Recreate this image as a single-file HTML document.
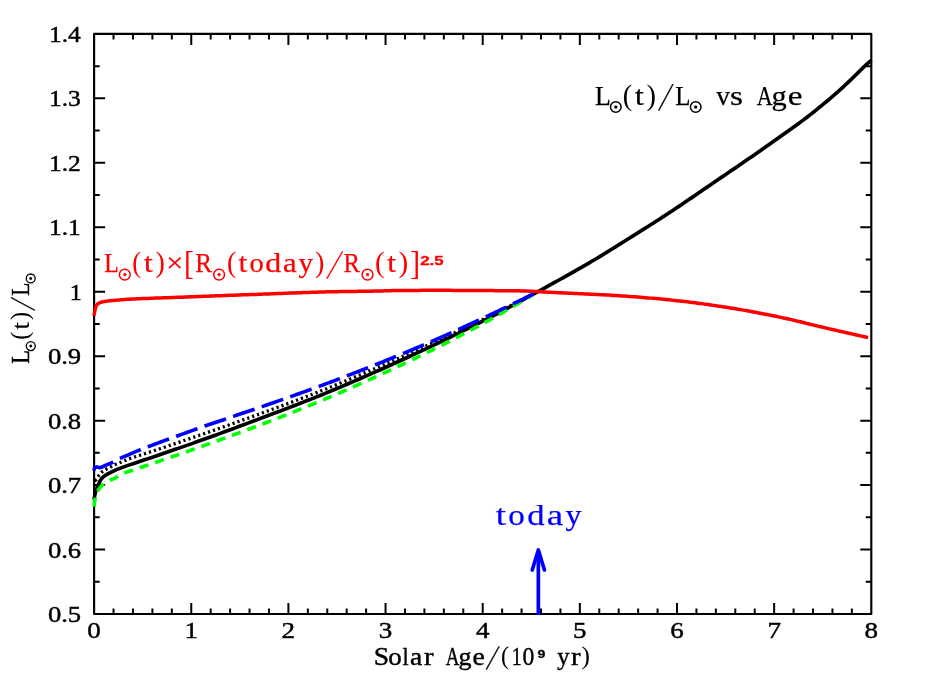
<!DOCTYPE html>
<html><head><meta charset="utf-8"><title>Solar luminosity vs age</title>
<style>
html,body{margin:0;padding:0;background:#fff;}
body{width:926px;height:692px;overflow:hidden;font-family:"Liberation Serif",serif;}
svg{display:block;will-change:transform;}
</style></head><body>
<svg width="926" height="692" viewBox="0 0 926 692">
<rect x="0" y="0" width="926" height="692" fill="#fff"/>
<g stroke="#000" fill="none" stroke-linecap="butt">
<rect x="94.1" y="33.9" width="777.20" height="580.10" stroke-width="2.15" stroke-linejoin="round"/>
<path d="M113.53,614.0 v-5.6 M113.53,33.9 v5.6 M132.96,614.0 v-5.6 M132.96,33.9 v5.6 M152.39,614.0 v-5.6 M152.39,33.9 v5.6 M171.82,614.0 v-5.6 M171.82,33.9 v5.6 M191.25,614.0 v-11 M191.25,33.9 v11 M210.68,614.0 v-5.6 M210.68,33.9 v5.6 M230.11,614.0 v-5.6 M230.11,33.9 v5.6 M249.54,614.0 v-5.6 M249.54,33.9 v5.6 M268.97,614.0 v-5.6 M268.97,33.9 v5.6 M288.40,614.0 v-11 M288.40,33.9 v11 M307.83,614.0 v-5.6 M307.83,33.9 v5.6 M327.26,614.0 v-5.6 M327.26,33.9 v5.6 M346.69,614.0 v-5.6 M346.69,33.9 v5.6 M366.12,614.0 v-5.6 M366.12,33.9 v5.6 M385.55,614.0 v-11 M385.55,33.9 v11 M404.98,614.0 v-5.6 M404.98,33.9 v5.6 M424.41,614.0 v-5.6 M424.41,33.9 v5.6 M443.84,614.0 v-5.6 M443.84,33.9 v5.6 M463.27,614.0 v-5.6 M463.27,33.9 v5.6 M482.70,614.0 v-11 M482.70,33.9 v11 M502.13,614.0 v-5.6 M502.13,33.9 v5.6 M521.56,614.0 v-5.6 M521.56,33.9 v5.6 M540.99,614.0 v-5.6 M540.99,33.9 v5.6 M560.42,614.0 v-5.6 M560.42,33.9 v5.6 M579.85,614.0 v-11 M579.85,33.9 v11 M599.28,614.0 v-5.6 M599.28,33.9 v5.6 M618.71,614.0 v-5.6 M618.71,33.9 v5.6 M638.14,614.0 v-5.6 M638.14,33.9 v5.6 M657.57,614.0 v-5.6 M657.57,33.9 v5.6 M677.00,614.0 v-11 M677.00,33.9 v11 M696.43,614.0 v-5.6 M696.43,33.9 v5.6 M715.86,614.0 v-5.6 M715.86,33.9 v5.6 M735.29,614.0 v-5.6 M735.29,33.9 v5.6 M754.72,614.0 v-5.6 M754.72,33.9 v5.6 M774.15,614.0 v-11 M774.15,33.9 v11 M793.58,614.0 v-5.6 M793.58,33.9 v5.6 M813.01,614.0 v-5.6 M813.01,33.9 v5.6 M832.44,614.0 v-5.6 M832.44,33.9 v5.6 M851.87,614.0 v-5.6 M851.87,33.9 v5.6 M94.1,581.77 h5.6 M871.3,581.77 h-5.6 M94.1,549.54 h11 M871.3,549.54 h-11 M94.1,517.32 h5.6 M871.3,517.32 h-5.6 M94.1,485.09 h11 M871.3,485.09 h-11 M94.1,452.86 h5.6 M871.3,452.86 h-5.6 M94.1,420.63 h11 M871.3,420.63 h-11 M94.1,388.41 h5.6 M871.3,388.41 h-5.6 M94.1,356.18 h11 M871.3,356.18 h-11 M94.1,323.95 h5.6 M871.3,323.95 h-5.6 M94.1,291.72 h11 M871.3,291.72 h-11 M94.1,259.49 h5.6 M871.3,259.49 h-5.6 M94.1,227.27 h11 M871.3,227.27 h-11 M94.1,195.04 h5.6 M871.3,195.04 h-5.6 M94.1,162.81 h11 M871.3,162.81 h-11 M94.1,130.58 h5.6 M871.3,130.58 h-5.6 M94.1,98.36 h11 M871.3,98.36 h-11 M94.1,66.13 h5.6 M871.3,66.13 h-5.6" stroke-width="2.0"/>
</g>
<g fill="none" stroke-linejoin="round">
<path d="M94.10,499.50 L94.18,498.82 L94.27,498.15 L94.37,497.48 L94.47,496.81 L94.53,496.50 L94.59,496.14 L94.71,495.48 L94.84,494.81 L94.97,494.15 L95.11,493.53 L95.13,493.49 L95.29,492.82 L95.46,492.17 L95.65,491.52 L95.84,490.87 L95.92,490.62 L96.05,490.23 L96.28,489.60 L96.52,488.96 L96.78,488.33 L97.01,487.80 L97.05,487.71 L97.32,487.09 L97.60,486.46 L97.88,485.84 L98.16,485.23 L98.25,485.03 L98.44,484.61 L98.71,483.98 L98.99,483.35 L99.26,482.71 L99.48,482.21 L99.54,482.08 L99.83,481.45 L100.13,480.85 L100.45,480.26 L100.80,479.70 L100.89,479.57 L101.17,479.17 L101.58,478.66 L102.03,478.15 L102.52,477.67 L102.88,477.33 L103.03,477.19 L103.55,476.74 L104.09,476.30 L104.64,475.88 L105.18,475.49 L105.28,475.42 L105.73,475.11 L106.29,474.75 L106.87,474.40 L107.46,474.07 L107.84,473.86 L108.06,473.75 L108.66,473.44 L109.28,473.13 L109.89,472.83 L110.51,472.53 L110.57,472.50 L111.12,472.23 L111.73,471.93 L112.34,471.63 L112.95,471.33 L113.29,471.16 L113.56,471.04 L114.17,470.74 L114.78,470.45 L115.40,470.17 L116.02,469.88 L116.04,469.88 L116.64,469.61 L118.82,468.69 L121.64,467.62 L124.50,466.61 L127.36,465.62 L130.23,464.64 L133.10,463.68 L135.97,462.74 L138.85,461.79 L141.72,460.82 L144.58,459.85 L147.45,458.88 L150.32,457.91 L153.18,456.94 L156.05,455.96 L158.91,454.99 L161.78,454.01 L164.64,453.03 L167.50,452.05 L170.37,451.06 L173.23,450.08 L176.09,449.09 L178.95,448.10 L181.81,447.10 L184.66,446.11 L187.52,445.11 L190.38,444.11 L193.23,443.10 L196.08,442.09 L198.93,441.08 L201.78,440.06 L204.63,439.04 L207.48,438.02 L210.33,436.99 L213.17,435.96 L216.02,434.93 L218.86,433.89 L221.70,432.85 L224.55,431.81 L227.39,430.77 L230.23,429.72 L233.06,428.67 L235.90,427.62 L238.74,426.56 L241.58,425.51 L244.41,424.45 L247.25,423.39 L250.08,422.33 L252.92,421.26 L255.75,420.20 L258.58,419.13 L261.41,418.07 L264.25,417.00 L267.08,415.94 L269.91,414.87 L272.74,413.80 L275.58,412.74 L278.41,411.67 L281.24,410.60 L284.07,409.52 L286.90,408.45 L289.73,407.37 L292.56,406.29 L295.38,405.20 L298.21,404.11 L301.03,403.02 L303.85,401.92 L306.67,400.82 L309.48,399.71 L312.29,398.59 L315.10,397.47 L317.91,396.34 L320.72,395.21 L323.52,394.07 L326.32,392.92 L329.11,391.77 L331.91,390.61 L334.70,389.45 L337.50,388.28 L340.29,387.10 L343.07,385.92 L345.86,384.74 L348.64,383.55 L351.42,382.36 L354.21,381.16 L356.98,379.96 L359.76,378.75 L362.54,377.54 L365.31,376.33 L368.08,375.12 L370.85,373.90 L373.62,372.68 L376.39,371.45 L379.15,370.23 L381.92,369.00 L384.68,367.76 L387.44,366.52 L390.20,365.28 L392.96,364.03 L395.72,362.78 L398.47,361.53 L401.22,360.27 L403.97,359.01 L406.72,357.74 L409.47,356.47 L412.22,355.20 L414.96,353.92 L417.71,352.64 L420.45,351.36 L423.19,350.07 L425.93,348.79 L428.66,347.49 L431.40,346.20 L434.13,344.90 L436.86,343.60 L439.59,342.29 L442.32,340.99 L445.05,339.68 L447.78,338.36 L450.50,337.04 L453.22,335.72 L455.94,334.39 L458.66,333.06 L461.38,331.73 L464.09,330.39 L466.81,329.05 L469.52,327.71 L472.23,326.36 L474.94,325.01 L477.64,323.65 L480.35,322.29 L483.05,320.93 L485.75,319.56 L488.45,318.19 L491.14,316.82 L493.83,315.43 L496.52,314.03 L499.20,312.62 L501.87,311.21 L504.54,309.79 L507.21,308.36 L509.88,306.93 L512.54,305.49 L515.21,304.05 L517.87,302.61 L520.52,301.16 L523.18,299.71 L525.84,298.26 L528.49,296.81 L531.15,295.36 L533.80,293.91 L536.46,292.45 L539.11,291.00 L541.77,289.55 L544.42,288.09 L547.07,286.63 L549.72,285.16 L552.36,283.68 L555.00,282.21 L557.65,280.74 L560.29,279.27 L562.94,277.79 L565.58,276.31 L568.22,274.84 L570.86,273.35 L573.50,271.87 L576.13,270.38 L578.76,268.88 L581.39,267.38 L584.01,265.87 L586.63,264.36 L589.25,262.83 L591.86,261.30 L594.46,259.76 L597.06,258.21 L599.65,256.65 L602.24,255.08 L604.82,253.50 L607.39,251.91 L609.97,250.32 L612.54,248.72 L615.10,247.11 L617.67,245.51 L620.23,243.90 L622.80,242.29 L625.36,240.67 L627.92,239.06 L630.48,237.46 L633.05,235.85 L635.61,234.24 L638.18,232.63 L640.74,231.03 L643.31,229.42 L645.87,227.80 L648.43,226.19 L650.98,224.57 L653.54,222.94 L656.09,221.31 L658.63,219.68 L661.18,218.04 L663.72,216.39 L666.25,214.74 L668.78,213.08 L671.30,211.41 L673.82,209.74 L676.34,208.06 L678.85,206.37 L681.36,204.68 L683.87,202.99 L686.38,201.29 L688.88,199.59 L691.38,197.88 L693.88,196.18 L696.38,194.47 L698.88,192.76 L701.37,191.05 L703.87,189.33 L706.37,187.62 L708.86,185.91 L711.36,184.20 L713.86,182.49 L716.36,180.78 L718.86,179.08 L721.36,177.37 L723.86,175.67 L726.37,173.97 L728.87,172.27 L731.37,170.57 L733.88,168.87 L736.38,167.17 L738.88,165.46 L741.38,163.76 L743.88,162.05 L746.37,160.34 L748.87,158.62 L751.36,156.91 L753.85,155.19 L756.34,153.46 L758.82,151.73 L761.30,150.00 L763.78,148.27 L766.26,146.53 L768.74,144.79 L771.21,143.05 L773.68,141.30 L776.15,139.55 L778.62,137.79 L781.08,136.03 L783.54,134.27 L786.01,132.51 L788.47,130.76 L790.94,129.00 L793.40,127.23 L795.86,125.46 L798.31,123.69 L800.75,121.90 L803.18,120.10 L805.60,118.28 L808.00,116.45 L810.39,114.59 L812.77,112.73 L815.14,110.84 L817.50,108.95 L819.85,107.04 L822.19,105.12 L824.52,103.18 L826.84,101.24 L829.15,99.28 L831.45,97.31 L833.74,95.33 L836.02,93.34 L838.29,91.34 L840.55,89.33 L842.79,87.29 L845.01,85.24 L847.21,83.16 L849.41,81.07 L851.59,78.98 L853.77,76.88 L855.95,74.78 L858.10,72.64 L860.23,70.49 L862.37,68.35 L864.55,66.25 L866.77,64.21 L869.07,62.23 L871.40,60.30" stroke="#000" stroke-width="3.65"/>
<path d="M94.10,480.60 L94.80,480.43 L95.42,480.19 L95.62,480.09 L95.92,479.88 L96.36,479.44 L96.65,479.06 L96.75,478.91 L97.12,478.31 L97.46,477.67 L97.50,477.61 L97.81,477.03 L98.18,476.41 L98.35,476.14 L98.57,475.83 L98.99,475.30 L99.34,474.86 L99.42,474.77 L99.85,474.24 L100.30,473.72 L100.38,473.62 L100.75,473.21 L101.22,472.72 L101.49,472.46 L101.70,472.25 L102.20,471.81 L102.68,471.44 L102.73,471.40 L103.27,471.01 L103.84,470.63 L104.00,470.53 L104.42,470.27 L105.01,469.91 L105.39,469.69 L105.60,469.57 L106.19,469.22 L106.77,468.89 L106.78,468.88 L107.37,468.56 L107.96,468.24 L108.19,468.13 L108.57,467.93 L109.17,467.62 L109.62,467.40 L109.78,467.32 L110.39,467.01 L110.99,466.71 L111.05,466.67 L111.59,466.39 L112.19,466.07 L112.47,465.93 L112.79,465.75 L113.39,465.44 L113.89,465.18 L113.99,465.12 L114.60,464.82 L115.21,464.53 L115.33,464.47 L115.82,464.25 L116.44,463.98 L116.79,463.84 L117.07,463.72 L117.70,463.48 L118.29,463.25 L118.34,463.24 L118.97,463.00 L119.61,462.75 L119.79,462.68 L120.24,462.51 L120.87,462.25 L121.27,462.08 L121.49,461.99 L122.12,461.73 L122.74,461.47 L122.75,461.46 L123.37,461.20 L123.99,460.94 L124.23,460.84 L124.62,460.68 L125.25,460.42 L125.71,460.23 L125.87,460.16 L126.50,459.90 L127.13,459.64 L127.19,459.62 L128.68,459.02 L130.18,458.45 L131.69,457.93 L133.21,457.43 L134.74,456.94 L136.27,456.47 L137.81,456.00 L139.34,455.51 L140.86,455.02 L142.39,454.52 L143.91,454.02 L145.43,453.52 L146.95,453.01 L148.47,452.51 L150.00,452.00 L151.52,451.50 L153.04,451.00 L154.56,450.49 L156.08,449.99 L157.60,449.48 L159.12,448.97 L160.64,448.47 L162.16,447.96 L163.68,447.45 L165.20,446.94 L166.72,446.43 L168.24,445.92 L169.76,445.41 L171.28,444.90 L172.80,444.39 L174.32,443.88 L175.84,443.36 L177.36,442.85 L178.87,442.33 L180.39,441.82 L181.91,441.30 L183.43,440.79 L184.94,440.27 L186.46,439.75 L187.98,439.24 L189.49,438.72 L191.01,438.20 L192.53,437.68 L194.04,437.15 L195.56,436.63 L197.07,436.11 L198.59,435.59 L200.10,435.06 L201.62,434.54 L203.13,434.01 L204.65,433.49 L206.16,432.96 L207.68,432.44 L209.19,431.91 L210.70,431.38 L212.22,430.85 L213.73,430.32 L215.24,429.79 L216.75,429.26 L218.27,428.73 L219.78,428.20 L221.29,427.67 L222.80,427.14 L224.32,426.60 L225.83,426.07 L227.34,425.54 L228.85,425.00 L230.36,424.47 L231.87,423.93 L233.38,423.39 L234.89,422.85 L236.40,422.32 L237.91,421.78 L239.42,421.24 L240.93,420.70 L242.44,420.16 L243.95,419.61 L245.45,419.07 L246.96,418.53 L248.47,417.98 L249.98,417.44 L251.48,416.90 L252.99,416.35 L254.50,415.80 L256.00,415.25 L257.51,414.71 L259.02,414.16 L260.52,413.61 L262.03,413.06 L263.53,412.51 L265.04,411.96 L266.55,411.41 L268.05,410.86 L269.56,410.31 L271.06,409.76 L272.57,409.21 L274.07,408.65 L275.58,408.10 L277.08,407.55 L278.59,407.00 L280.09,406.44 L281.59,405.89 L283.10,405.33 L284.60,404.78 L286.10,404.22 L287.61,403.66 L289.11,403.10 L290.61,402.54 L292.11,401.98 L293.61,401.42 L295.11,400.86 L296.61,400.29 L298.11,399.73 L299.61,399.16 L301.11,398.59 L302.61,398.03 L304.11,397.46 L305.61,396.88 L307.10,396.31 L308.60,395.74 L310.10,395.16 L311.59,394.58 L313.09,394.00 L314.58,393.42 L316.07,392.84 L317.57,392.26 L319.06,391.67 L320.55,391.08 L322.04,390.49 L323.53,389.90 L325.02,389.31 L326.51,388.71 L328.00,388.12 L329.48,387.52 L330.97,386.92 L332.46,386.32 L333.94,385.72 L335.43,385.11 L336.91,384.51 L338.39,383.90 L339.88,383.29 L341.36,382.68 L342.84,382.07 L344.32,381.46 L345.80,380.84 L347.28,380.23 L348.76,379.61 L350.24,379.00 L351.72,378.38 L353.20,377.76 L354.68,377.14 L356.15,376.52 L357.63,375.89 L359.11,375.27 L360.58,374.65 L362.06,374.02 L363.54,373.39 L365.01,372.77 L366.49,372.14 L367.96,371.51 L369.43,370.88 L370.91,370.25 L372.38,369.62 L373.86,368.99 L375.33,368.36 L376.80,367.73 L378.27,367.09 L379.75,366.46 L381.22,365.82 L382.69,365.19 L384.16,364.55 L385.63,363.92 L387.10,363.28 L388.57,362.64 L390.04,362.00 L391.51,361.36 L392.98,360.71 L394.45,360.07 L395.92,359.43 L397.38,358.78 L398.85,358.14 L400.32,357.49 L401.78,356.84 L403.25,356.19 L404.71,355.54 L406.18,354.89 L407.64,354.24 L409.11,353.59 L410.57,352.93 L412.03,352.28 L413.50,351.63 L414.96,350.97 L416.42,350.31 L417.88,349.66 L419.35,349.00 L420.81,348.34 L422.27,347.68 L423.73,347.02 L425.19,346.36 L426.65,345.70 L428.11,345.03 L429.57,344.37 L431.03,343.71 L432.48,343.04 L433.94,342.37 L435.40,341.71 L436.86,341.04 L438.31,340.37 L439.77,339.71 L441.23,339.04 L442.68,338.37 L444.14,337.69 L445.59,337.02 L447.05,336.35 L448.50,335.68 L449.96,335.00 L451.41,334.33 L452.86,333.65 L454.32,332.97 L455.77,332.29 L457.22,331.61 L458.67,330.93 L460.12,330.25 L461.57,329.57 L463.02,328.89 L464.47,328.20 L465.92,327.52 L467.37,326.83 L468.82,326.15 L470.27,325.46 L471.72,324.77 L473.16,324.08 L474.61,323.39 L476.06,322.70 L477.50,322.01 L478.95,321.32 L480.40,320.63 L481.84,319.94 L483.29,319.24 L484.73,318.55 L486.18,317.85 L487.62,317.16 L489.06,316.46 L490.50,315.75 L491.94,315.05 L493.38,314.34 L494.82,313.64 L496.26,312.93 L497.69,312.21 L499.13,311.50 L500.56,310.79 L502.00,310.07 L503.43,309.35 L504.86,308.62 L506.29,307.90 L507.72,307.18 L509.15,306.45 L510.58,305.73 L512.01,305.00 L513.43,304.27 L514.86,303.54 L516.29,302.81 L517.71,302.08 L519.14,301.35 L520.57,300.62 L521.99,299.89 L523.42,299.16 L524.85,298.42 L526.27,297.69 L527.70,296.96 L529.12,296.23 L530.55,295.49 L531.97,294.76 L533.40,294.03" stroke="#000" stroke-width="3.3" stroke-dasharray="2.2 3.0" stroke-dashoffset="-0.65"/>
<path d="M94.00,507.30 L94.05,506.62 L94.11,505.95 L94.14,505.64 L94.18,505.27 L94.25,504.60 L94.33,503.99 L94.34,503.92 L94.42,503.25 L94.52,502.58 L94.55,502.34 L94.61,501.91 L94.72,501.24 L94.81,500.70 L94.83,500.57 L94.96,499.90 L95.09,499.23 L95.13,499.07 L95.24,498.57 L95.39,497.91 L95.51,497.45 L95.56,497.26 L95.74,496.61 L95.93,495.96 L95.96,495.86 L96.14,495.30 L96.36,494.65 L96.50,494.26 L96.60,494.00 L96.85,493.36 L97.11,492.73 L97.12,492.69 L97.39,492.10 L97.67,491.49 L97.82,491.18 L97.97,490.89 L98.28,490.31 L98.60,489.76 L98.61,489.74 L98.96,489.18 L99.34,488.61 L99.50,488.39 L99.74,488.06 L100.17,487.51 L100.55,487.05 L100.61,486.97 L101.07,486.45 L101.54,485.94 L101.69,485.78 L102.03,485.44 L102.52,484.96 L102.90,484.62 L103.02,484.51 L103.52,484.08 L104.03,483.67 L104.14,483.58 L104.56,483.28 L105.11,482.90 L105.48,482.65 L105.68,482.53 L106.26,482.18 L106.86,481.84 L106.92,481.80 L107.46,481.51 L108.07,481.19 L108.42,481.01 L108.69,480.88 L109.31,480.57 L109.92,480.28 L109.93,480.27 L110.53,479.98 L111.15,479.71 L111.45,479.59 L111.79,479.46 L112.42,479.22 L113.01,479.00 L113.06,478.98 L113.69,478.73 L114.30,478.45 L114.52,478.34 L114.89,478.13 L115.47,477.78 L115.93,477.47 L116.04,477.40 L117.29,476.48 L118.66,475.51 L120.08,474.69 L121.57,474.02 L123.11,473.42 L124.68,472.86 L126.27,472.33 L127.86,471.81 L129.45,471.28 L131.01,470.73 L132.59,470.19 L134.16,469.66 L135.74,469.13 L137.31,468.60 L138.89,468.08 L140.46,467.54 L142.04,467.01 L143.61,466.48 L145.18,465.95 L146.76,465.41 L148.33,464.88 L149.90,464.35 L151.48,463.81 L153.05,463.28 L154.62,462.75 L156.20,462.21 L157.77,461.67 L159.34,461.14 L160.91,460.60 L162.49,460.06 L164.06,459.53 L165.63,458.99 L167.20,458.45 L168.77,457.91 L170.35,457.37 L171.92,456.83 L173.49,456.29 L175.06,455.74 L176.63,455.20 L178.20,454.66 L179.77,454.11 L181.34,453.57 L182.91,453.02 L184.47,452.47 L186.04,451.93 L187.61,451.38 L189.18,450.83 L190.75,450.28 L192.31,449.72 L193.88,449.17 L195.45,448.62 L197.01,448.06 L198.58,447.51 L200.14,446.95 L201.71,446.39 L203.27,445.83 L204.84,445.27 L206.40,444.71 L207.97,444.15 L209.53,443.59 L211.09,443.03 L212.66,442.46 L214.22,441.90 L215.78,441.33 L217.34,440.77 L218.91,440.20 L220.47,439.63 L222.03,439.06 L223.59,438.50 L225.15,437.93 L226.71,437.36 L228.27,436.78 L229.83,436.21 L231.39,435.64 L232.95,435.07 L234.51,434.49 L236.07,433.92 L237.63,433.34 L239.19,432.77 L240.74,432.19 L242.30,431.61 L243.86,431.04 L245.42,430.46 L246.97,429.88 L248.53,429.30 L250.09,428.72 L251.64,428.13 L253.20,427.55 L254.76,426.97 L256.31,426.39 L257.87,425.80 L259.42,425.22 L260.98,424.63 L262.53,424.04 L264.09,423.45 L265.64,422.87 L267.19,422.27 L268.74,421.68 L270.30,421.09 L271.85,420.49 L273.40,419.90 L274.95,419.30 L276.50,418.70 L278.05,418.10 L279.59,417.49 L281.14,416.89 L282.69,416.28 L284.24,415.68 L285.78,415.07 L287.33,414.46 L288.87,413.85 L290.42,413.24 L291.96,412.62 L293.51,412.01 L295.05,411.39 L296.59,410.77 L298.13,410.15 L299.67,409.53 L301.21,408.91 L302.75,408.29 L304.29,407.66 L305.83,407.04 L307.37,406.41 L308.91,405.78 L310.45,405.15 L311.98,404.52 L313.52,403.89 L315.06,403.25 L316.59,402.62 L318.13,401.98 L319.66,401.34 L321.19,400.70 L322.73,400.06 L324.26,399.42 L325.79,398.77 L327.32,398.13 L328.85,397.48 L330.38,396.83 L331.91,396.18 L333.44,395.53 L334.96,394.87 L336.49,394.22 L338.02,393.56 L339.54,392.90 L341.07,392.24 L342.59,391.58 L344.11,390.91 L345.64,390.25 L347.16,389.58 L348.68,388.92 L350.20,388.25 L351.72,387.58 L353.24,386.91 L354.76,386.23 L356.28,385.56 L357.80,384.88 L359.31,384.21 L360.83,383.53 L362.35,382.85 L363.86,382.17 L365.38,381.49 L366.89,380.81 L368.41,380.13 L369.92,379.44 L371.44,378.75 L372.95,378.07 L374.46,377.38 L375.97,376.69 L377.49,376.00 L379.00,375.31 L380.51,374.62 L382.02,373.92 L383.53,373.23 L385.03,372.53 L386.54,371.84 L388.05,371.14 L389.56,370.44 L391.06,369.73 L392.57,369.03 L394.07,368.33 L395.58,367.62 L397.08,366.91 L398.58,366.21 L400.09,365.50 L401.59,364.79 L403.09,364.07 L404.59,363.36 L406.09,362.64 L407.59,361.93 L409.09,361.21 L410.58,360.49 L412.08,359.77 L413.58,359.05 L415.07,358.33 L416.57,357.60 L418.06,356.88 L419.56,356.15 L421.05,355.42 L422.55,354.69 L424.04,353.96 L425.53,353.23 L427.02,352.50 L428.51,351.76 L430.00,351.03 L431.49,350.29 L432.98,349.55 L434.47,348.81 L435.95,348.07 L437.44,347.33 L438.93,346.59 L440.41,345.84 L441.90,345.10 L443.38,344.35 L444.86,343.60 L446.34,342.85 L447.82,342.09 L449.30,341.34 L450.78,340.58 L452.26,339.82 L453.74,339.06 L455.21,338.29 L456.69,337.53 L458.16,336.76 L459.63,335.99 L461.11,335.22 L462.58,334.45 L464.05,333.68 L465.52,332.90 L466.99,332.12 L468.45,331.34 L469.92,330.56 L471.39,329.78 L472.85,329.00 L474.32,328.21 L475.78,327.43 L477.24,326.64 L478.70,325.85 L480.17,325.06 L481.63,324.27 L483.09,323.48 L484.55,322.69 L486.01,321.89 L487.47,321.10 L488.92,320.30 L490.38,319.49 L491.83,318.69 L493.28,317.88 L494.73,317.06 L496.18,316.25 L497.62,315.43 L499.07,314.61 L500.51,313.79 L501.95,312.96 L503.39,312.13 L504.83,311.30 L506.27,310.46 L507.70,309.63 L509.14,308.79 L510.57,307.95 L512.00,307.11 L513.43,306.26 L514.87,305.42 L516.29,304.57 L517.72,303.72 L519.15,302.87 L520.58,302.02 L522.01,301.17 L523.43,300.32 L524.86,299.47 L526.28,298.61 L527.71,297.75 L529.13,296.90 L530.55,296.04 L531.98,295.19 L533.40,294.33" stroke="#00ff00" stroke-width="3.6" stroke-dasharray="9.3 7.0" stroke-dashoffset="-0.5"/>
<path d="M94.00,470.40 L94.12,469.47 L94.36,468.64 L94.46,468.39 L94.68,467.97 L95.06,467.49 L95.35,467.28 L95.48,467.23 L95.99,467.16 L96.71,467.12 L96.73,467.12 L97.44,467.10 L98.11,467.19 L98.36,467.27 L98.78,467.41 L99.43,467.58 L99.90,467.59 L100.08,467.58 L100.72,467.47 L101.36,467.28 L101.40,467.27 L101.99,467.03 L102.62,466.74 L102.88,466.60 L103.24,466.41 L103.87,466.08 L104.34,465.84 L104.49,465.76 L105.12,465.47 L105.75,465.22 L105.81,465.19 L106.38,464.97 L107.01,464.71 L107.29,464.60 L107.64,464.46 L108.27,464.21 L108.77,464.00 L108.90,463.95 L109.52,463.69 L110.15,463.43 L110.24,463.39 L110.77,463.16 L111.39,462.89 L111.69,462.76 L112.01,462.62 L112.63,462.33 L113.13,462.09 L113.24,462.04 L113.84,461.74 L114.44,461.43 L114.55,461.37 L115.04,461.11 L115.64,460.78 L115.95,460.61 L116.23,460.45 L116.83,460.12 L117.34,459.84 L117.42,459.80 L118.02,459.47 L118.61,459.15 L118.74,459.08 L119.22,458.84 L119.82,458.53 L120.16,458.37 L120.43,458.24 L121.04,457.95 L121.60,457.70 L121.66,457.68 L122.28,457.40 L122.90,457.13 L123.05,457.07 L123.53,456.87 L124.15,456.61 L124.52,456.45 L124.78,456.35 L125.41,456.09 L125.99,455.84 L126.03,455.83 L126.66,455.57 L127.29,455.30 L127.46,455.23 L127.91,455.04 L128.53,454.77 L128.92,454.60 L129.16,454.50 L130.38,453.97 L131.84,453.33 L133.29,452.70 L134.75,452.07 L136.21,451.44 L137.68,450.83 L139.15,450.23 L140.63,449.64 L142.11,449.06 L143.59,448.48 L145.07,447.91 L146.56,447.34 L148.04,446.77 L149.53,446.20 L151.01,445.64 L152.50,445.07 L153.98,444.51 L155.47,443.95 L156.96,443.39 L158.45,442.83 L159.94,442.28 L161.43,441.73 L162.92,441.18 L164.41,440.63 L165.91,440.08 L167.40,439.53 L168.89,438.99 L170.39,438.44 L171.88,437.90 L173.38,437.36 L174.87,436.82 L176.37,436.28 L177.86,435.74 L179.36,435.20 L180.85,434.65 L182.34,434.11 L183.84,433.57 L185.33,433.03 L186.83,432.49 L188.32,431.95 L189.82,431.41 L191.31,430.86 L192.81,430.32 L194.30,429.79 L195.80,429.25 L197.30,428.71 L198.80,428.18 L200.29,427.65 L201.79,427.12 L203.29,426.59 L204.79,426.07 L206.29,425.55 L207.80,425.03 L209.30,424.51 L210.81,424.00 L212.31,423.49 L213.82,422.98 L215.32,422.47 L216.83,421.96 L218.34,421.45 L219.84,420.94 L221.35,420.43 L222.85,419.93 L224.36,419.42 L225.87,418.91 L227.37,418.40 L228.88,417.89 L230.38,417.37 L231.89,416.86 L233.39,416.35 L234.90,415.83 L236.40,415.32 L237.91,414.81 L239.41,414.30 L240.92,413.79 L242.42,413.28 L243.93,412.77 L245.43,412.26 L246.94,411.75 L248.45,411.24 L249.95,410.73 L251.46,410.22 L252.96,409.71 L254.47,409.19 L255.97,408.68 L257.48,408.17 L258.98,407.65 L260.48,407.13 L261.99,406.62 L263.49,406.10 L264.99,405.58 L266.49,405.06 L268.00,404.54 L269.50,404.02 L271.00,403.50 L272.50,402.98 L274.01,402.46 L275.51,401.94 L277.01,401.42 L278.51,400.89 L280.01,400.37 L281.51,399.84 L283.01,399.32 L284.51,398.79 L286.01,398.27 L287.51,397.74 L289.01,397.21 L290.51,396.68 L292.01,396.16 L293.51,395.62 L295.01,395.09 L296.51,394.56 L298.00,394.03 L299.50,393.49 L301.00,392.96 L302.49,392.42 L303.99,391.88 L305.49,391.35 L306.98,390.81 L308.48,390.27 L309.97,389.72 L311.47,389.18 L312.96,388.64 L314.45,388.09 L315.95,387.54 L317.44,387.00 L318.93,386.45 L320.42,385.89 L321.91,385.34 L323.40,384.79 L324.89,384.24 L326.38,383.68 L327.87,383.12 L329.36,382.57 L330.85,382.01 L332.34,381.45 L333.82,380.89 L335.31,380.33 L336.80,379.76 L338.28,379.20 L339.77,378.63 L341.26,378.07 L342.74,377.50 L344.23,376.93 L345.71,376.36 L347.19,375.79 L348.68,375.22 L350.16,374.65 L351.64,374.08 L353.13,373.50 L354.61,372.93 L356.09,372.35 L357.57,371.78 L359.05,371.20 L360.53,370.62 L362.01,370.04 L363.49,369.46 L364.97,368.88 L366.45,368.29 L367.93,367.71 L369.41,367.12 L370.89,366.54 L372.36,365.95 L373.84,365.36 L375.32,364.77 L376.79,364.18 L378.27,363.59 L379.75,363.00 L381.22,362.41 L382.70,361.82 L384.17,361.22 L385.64,360.63 L387.12,360.03 L388.59,359.43 L390.06,358.84 L391.54,358.24 L393.01,357.64 L394.48,357.04 L395.95,356.44 L397.42,355.83 L398.89,355.23 L400.36,354.62 L401.83,354.02 L403.30,353.41 L404.77,352.80 L406.24,352.19 L407.71,351.58 L409.18,350.97 L410.64,350.36 L412.11,349.75 L413.58,349.13 L415.04,348.52 L416.51,347.90 L417.97,347.28 L419.44,346.66 L420.90,346.04 L422.36,345.42 L423.82,344.80 L425.29,344.17 L426.75,343.55 L428.21,342.92 L429.67,342.29 L431.13,341.66 L432.59,341.03 L434.05,340.40 L435.51,339.76 L436.96,339.13 L438.42,338.49 L439.88,337.85 L441.33,337.21 L442.78,336.57 L444.24,335.93 L445.69,335.28 L447.14,334.64 L448.60,333.99 L450.05,333.34 L451.50,332.68 L452.94,332.03 L454.39,331.37 L455.84,330.72 L457.29,330.06 L458.73,329.40 L460.18,328.74 L461.62,328.08 L463.07,327.41 L464.51,326.75 L465.96,326.08 L467.40,325.42 L468.84,324.75 L470.29,324.08 L471.73,323.41 L473.17,322.74 L474.61,322.07 L476.05,321.40 L477.49,320.73 L478.94,320.06 L480.38,319.39 L481.82,318.72 L483.26,318.05 L484.70,317.38 L486.14,316.70 L487.58,316.03 L489.02,315.35 L490.46,314.68 L491.90,314.00 L493.34,313.33 L494.77,312.65 L496.21,311.97 L497.65,311.28 L499.08,310.60 L500.51,309.91 L501.95,309.22 L503.38,308.53 L504.81,307.84 L506.24,307.15 L507.67,306.46 L509.10,305.76 L510.53,305.07 L511.96,304.37 L513.39,303.68 L514.82,302.98 L516.25,302.29 L517.68,301.59 L519.11,300.89 L520.54,300.20 L521.97,299.50 L523.40,298.80 L524.83,298.11 L526.25,297.41 L527.68,296.71 L529.11,296.02 L530.54,295.32 L531.97,294.62 L533.40,293.93" stroke="#0000ff" stroke-width="3.6" stroke-dasharray="22.7 7.5" stroke-dashoffset="0"/>
<path d="M94.07,315.60 L94.15,314.92 L94.24,314.25 L94.34,313.58 L94.44,312.98 L94.45,312.91 L94.58,312.24 L94.70,311.57 L94.84,310.91 L94.95,310.40 L94.98,310.25 L95.13,309.59 L95.28,308.92 L95.43,308.23 L95.54,307.77 L95.60,307.53 L95.79,306.85 L96.00,306.20 L96.24,305.61 L96.39,305.31 L96.52,305.08 L96.93,304.60 L97.44,304.14 L98.03,303.72 L98.29,303.55 L98.65,303.34 L99.26,303.02 L99.85,302.75 L100.48,302.49 L100.68,302.42 L101.13,302.26 L101.78,302.05 L102.45,301.87 L103.11,301.72 L103.24,301.69 L103.77,301.59 L104.43,301.47 L105.10,301.36 L105.77,301.27 L105.83,301.26 L106.44,301.17 L107.12,301.09 L107.80,301.01 L108.45,300.94 L108.47,300.93 L109.15,300.86 L109.82,300.79 L110.50,300.72 L111.07,300.66 L111.17,300.65 L111.85,300.59 L112.52,300.52 L113.20,300.46 L113.70,300.42 L113.87,300.41 L114.55,300.35 L115.22,300.30 L115.90,300.24 L116.32,300.21 L116.58,300.19 L117.25,300.13 L117.93,300.08 L118.60,300.02 L118.95,300.00 L119.28,299.97 L119.96,299.91 L120.63,299.85 L121.31,299.80 L121.57,299.77 L121.98,299.74 L122.66,299.68 L123.33,299.63 L124.01,299.57 L124.20,299.56 L124.69,299.52 L126.83,299.37 L129.45,299.22 L132.08,299.08 L134.71,298.95 L137.34,298.82 L139.97,298.71 L142.61,298.59 L145.24,298.49 L147.87,298.38 L150.50,298.29 L153.14,298.19 L155.77,298.10 L158.40,298.01 L161.03,297.92 L163.67,297.83 L166.30,297.74 L168.93,297.65 L171.57,297.56 L174.20,297.47 L176.83,297.37 L179.47,297.27 L182.10,297.17 L184.73,297.07 L187.36,296.97 L189.99,296.86 L192.63,296.76 L195.26,296.66 L197.89,296.56 L200.52,296.46 L203.15,296.36 L205.79,296.26 L208.42,296.16 L211.05,296.06 L213.68,295.96 L216.32,295.86 L218.95,295.76 L221.58,295.66 L224.21,295.56 L226.84,295.46 L229.48,295.36 L232.11,295.26 L234.74,295.16 L237.37,295.06 L240.01,294.96 L242.64,294.86 L245.27,294.77 L247.90,294.67 L250.53,294.57 L253.17,294.47 L255.80,294.38 L258.43,294.28 L261.06,294.18 L263.70,294.09 L266.33,293.99 L268.96,293.90 L271.59,293.80 L274.23,293.70 L276.86,293.61 L279.49,293.51 L282.12,293.40 L284.75,293.30 L287.39,293.20 L290.02,293.09 L292.65,292.99 L295.28,292.89 L297.92,292.79 L300.55,292.69 L303.18,292.59 L305.81,292.50 L308.45,292.40 L311.08,292.31 L313.71,292.22 L316.34,292.14 L318.98,292.06 L321.61,291.99 L324.24,291.92 L326.87,291.85 L329.51,291.79 L332.14,291.74 L334.77,291.69 L337.41,291.64 L340.04,291.60 L342.68,291.55 L345.31,291.52 L347.94,291.48 L350.58,291.44 L353.21,291.41 L355.84,291.38 L358.48,291.34 L361.11,291.31 L363.75,291.27 L366.38,291.23 L369.01,291.19 L371.65,291.15 L374.28,291.11 L376.92,291.06 L379.55,291.01 L382.18,290.95 L384.82,290.87 L387.45,290.78 L390.08,290.68 L392.71,290.60 L395.35,290.52 L397.98,290.47 L400.61,290.45 L403.25,290.43 L405.88,290.42 L408.52,290.41 L411.15,290.40 L413.78,290.39 L416.42,290.38 L419.05,290.38 L421.69,290.37 L424.32,290.37 L426.95,290.36 L429.59,290.36 L432.22,290.35 L434.86,290.35 L437.49,290.35 L440.13,290.35 L442.76,290.35 L445.39,290.35 L448.03,290.36 L450.66,290.37 L453.30,290.38 L455.93,290.39 L458.56,290.40 L461.20,290.41 L463.83,290.43 L466.47,290.44 L469.10,290.46 L471.73,290.48 L474.37,290.49 L477.00,290.51 L479.64,290.53 L482.27,290.55 L484.90,290.57 L487.54,290.58 L490.17,290.60 L492.81,290.62 L495.44,290.64 L498.08,290.65 L500.71,290.67 L503.34,290.69 L505.98,290.71 L508.61,290.74 L511.25,290.76 L513.88,290.79 L516.51,290.82 L519.15,290.86 L521.78,290.90 L524.41,290.95 L527.04,291.04 L529.68,291.15 L532.31,291.28 L534.94,291.42 L537.57,291.57 L540.20,291.73 L542.83,291.89 L545.46,292.05 L548.09,292.20 L550.72,292.34 L553.35,292.47 L555.98,292.59 L558.61,292.72 L561.24,292.84 L563.88,292.96 L566.51,293.08 L569.14,293.20 L571.77,293.32 L574.40,293.44 L577.04,293.56 L579.67,293.68 L582.30,293.80 L584.93,293.93 L587.56,294.05 L590.19,294.17 L592.82,294.30 L595.46,294.43 L598.09,294.56 L600.72,294.70 L603.35,294.83 L605.98,294.97 L608.61,295.12 L611.24,295.27 L613.86,295.42 L616.49,295.58 L619.12,295.74 L621.75,295.91 L624.38,296.09 L627.00,296.27 L629.63,296.45 L632.26,296.64 L634.89,296.84 L637.51,297.04 L640.14,297.25 L642.77,297.46 L645.39,297.68 L648.02,297.90 L650.64,298.13 L653.27,298.36 L655.89,298.60 L658.52,298.84 L661.14,299.09 L663.76,299.34 L666.39,299.60 L669.01,299.86 L671.63,300.12 L674.25,300.39 L676.86,300.67 L679.48,300.94 L682.10,301.23 L684.71,301.52 L687.33,301.83 L689.94,302.15 L692.56,302.47 L695.17,302.81 L697.78,303.15 L700.39,303.50 L703.00,303.86 L705.61,304.23 L708.22,304.60 L710.83,304.98 L713.44,305.36 L716.04,305.75 L718.65,306.15 L721.26,306.54 L723.86,306.94 L726.46,307.35 L729.06,307.75 L731.66,308.16 L734.26,308.58 L736.86,309.01 L739.46,309.45 L742.06,309.90 L744.65,310.36 L747.24,310.83 L749.84,311.30 L752.43,311.77 L755.02,312.26 L757.61,312.75 L760.19,313.24 L762.78,313.73 L765.36,314.24 L767.95,314.75 L770.53,315.27 L773.11,315.79 L775.69,316.33 L778.27,316.86 L780.85,317.41 L783.43,317.96 L786.00,318.52 L788.57,319.08 L791.14,319.66 L793.71,320.24 L796.27,320.84 L798.84,321.45 L801.40,322.07 L803.96,322.70 L806.51,323.33 L809.07,323.96 L811.63,324.58 L814.19,325.21 L816.75,325.83 L819.31,326.44 L821.88,327.04 L824.44,327.64 L827.01,328.24 L829.57,328.84 L832.14,329.43 L834.70,330.03 L837.27,330.62 L839.84,331.21 L842.40,331.80 L844.97,332.39 L847.54,332.97 L850.11,333.56 L852.68,334.14 L855.25,334.72 L857.82,335.30 L860.39,335.88 L862.96,336.46 L865.53,337.03 L868.10,337.60" stroke="#ff0000" stroke-width="3.5"/>
</g>
<g fill="none" stroke="#0000ff" stroke-width="3.7" stroke-linecap="round" stroke-linejoin="round"><path d="M538.35,615.0 L538.35,551" stroke-linecap="butt"/><path d="M532.25,570.0 L538.35,550.0 L544.45,570.0"/></g>
<g font-family="'Liberation Serif', serif" font-size="24.0px" fill="#000" stroke="#000" stroke-width="0.45">
<text x="87.3" y="638.4" textLength="13.5" lengthAdjust="spacingAndGlyphs">0</text>
<text x="184.5" y="638.4" textLength="13.5" lengthAdjust="spacingAndGlyphs">1</text>
<text x="281.6" y="638.4" textLength="13.5" lengthAdjust="spacingAndGlyphs">2</text>
<text x="378.8" y="638.4" textLength="13.5" lengthAdjust="spacingAndGlyphs">3</text>
<text x="475.9" y="638.4" textLength="13.5" lengthAdjust="spacingAndGlyphs">4</text>
<text x="573.1" y="638.4" textLength="13.5" lengthAdjust="spacingAndGlyphs">5</text>
<text x="670.2" y="638.4" textLength="13.5" lengthAdjust="spacingAndGlyphs">6</text>
<text x="767.4" y="638.4" textLength="13.5" lengthAdjust="spacingAndGlyphs">7</text>
<text x="864.5" y="638.4" textLength="13.5" lengthAdjust="spacingAndGlyphs">8</text>
<text x="47.9" y="622.0" textLength="33.3" lengthAdjust="spacingAndGlyphs">0.5</text>
<text x="47.9" y="557.5" textLength="33.3" lengthAdjust="spacingAndGlyphs">0.6</text>
<text x="47.9" y="493.1" textLength="33.3" lengthAdjust="spacingAndGlyphs">0.7</text>
<text x="47.9" y="428.6" textLength="33.3" lengthAdjust="spacingAndGlyphs">0.8</text>
<text x="47.9" y="364.2" textLength="33.3" lengthAdjust="spacingAndGlyphs">0.9</text>
<text x="69.7" y="299.7">1</text>
<text x="48.9" y="235.3" textLength="31.9" lengthAdjust="spacingAndGlyphs">1.1</text>
<text x="48.9" y="170.8" textLength="31.9" lengthAdjust="spacingAndGlyphs">1.2</text>
<text x="48.9" y="106.4" textLength="31.9" lengthAdjust="spacingAndGlyphs">1.3</text>
<text x="48.9" y="41.9" textLength="31.9" lengthAdjust="spacingAndGlyphs">1.4</text>
</g>
<g font-family="'Liberation Serif', serif" fill="#000" stroke="#000" stroke-width="0.4">
<text font-size="24.3px" ><tspan x="373.75" textLength="15.36" lengthAdjust="spacingAndGlyphs" y="664.8">S</tspan><tspan x="388.38" textLength="13.45" lengthAdjust="spacingAndGlyphs" y="664.8">o</tspan><tspan x="402.55" textLength="6.19" lengthAdjust="spacingAndGlyphs" y="664.8">l</tspan><tspan x="409.93" textLength="12.25" lengthAdjust="spacingAndGlyphs" y="664.8">a</tspan><tspan x="424.01" textLength="9.55" lengthAdjust="spacingAndGlyphs" y="664.8">r</tspan><tspan> </tspan><tspan x="445.78" textLength="13.69" lengthAdjust="spacingAndGlyphs" y="664.8">A</tspan><tspan x="458.58" textLength="13.01" lengthAdjust="spacingAndGlyphs" y="664.8">g</tspan><tspan x="472.61" textLength="12.35" lengthAdjust="spacingAndGlyphs" y="664.8">e</tspan></text><text font-size="23px"  transform="translate(485.91,668.87) skewX(-17.69) scale(1,1.469)">/</text><text font-size="24.3px" ><tspan x="500.94" textLength="8.04" lengthAdjust="spacingAndGlyphs" font-size="24.92px" y="663.89" stroke-width="0">(</tspan><tspan x="511.65" textLength="9.94" lengthAdjust="spacingAndGlyphs" y="664.8">1</tspan><tspan x="522.50" textLength="11.80" lengthAdjust="spacingAndGlyphs" y="664.8">0</tspan><tspan> </tspan><tspan x="557.20" textLength="12.30" lengthAdjust="spacingAndGlyphs" y="664.8">y</tspan><tspan x="570.96" textLength="9.55" lengthAdjust="spacingAndGlyphs" y="664.8">r</tspan><tspan x="581.58" textLength="8.43" lengthAdjust="spacingAndGlyphs" font-size="24.92px" y="663.89" stroke-width="0">)</tspan></text>
<text x="537.4" y="657.9" font-family="'Liberation Sans', sans-serif" font-size="11.2px" font-weight="bold" stroke-width="0.3" textLength="7.9" lengthAdjust="spacingAndGlyphs">9</text>
</g>
<g transform="translate(29.2,363.0) rotate(-90)" font-family="'Liberation Serif', serif" fill="#000" stroke="#000" stroke-width="0.4">
<text font-size="24.3px" ><tspan x="-0.65" textLength="13.69" lengthAdjust="spacingAndGlyphs" y="0">L</tspan><tspan x="23.26" textLength="7.91" lengthAdjust="spacingAndGlyphs" font-size="25.48px" y="-0.72" stroke-width="0">(</tspan><tspan x="33.36" textLength="7.97" lengthAdjust="spacingAndGlyphs" y="0" stroke-width="0.05">t</tspan><tspan x="42.91" textLength="8.17" lengthAdjust="spacingAndGlyphs" font-size="25.48px" y="-0.72" stroke-width="0">)</tspan></text><text font-size="23px"  transform="translate(52.51,4.46) skewX(-17.26) scale(1,1.508)">/</text><text font-size="24.3px" ><tspan x="67.29" textLength="12.99" lengthAdjust="spacingAndGlyphs" y="0">L</tspan></text>
<circle cx="16.9" cy="1.6" r="4.45" fill="none" stroke="#000" stroke-width="1.35"/><circle cx="16.9" cy="1.6" r="1.25" fill="#000"/>
<circle cx="84.6" cy="1.5" r="4.45" fill="none" stroke="#000" stroke-width="1.35"/><circle cx="84.6" cy="1.5" r="1.25" fill="#000"/>
</g>
<g font-family="'Liberation Serif', serif" fill="#000" stroke="#000" stroke-width="0.25">
<text font-size="28.2px" ><tspan x="594.95" textLength="15.80" lengthAdjust="spacingAndGlyphs" y="105.0">L</tspan><tspan x="622.85" textLength="9.47" lengthAdjust="spacingAndGlyphs" font-size="29.45px" y="104.63" stroke-width="0">(</tspan><tspan x="634.76" textLength="9.25" lengthAdjust="spacingAndGlyphs" y="105.0" stroke-width="0.05">t</tspan><tspan x="646.48" textLength="9.47" lengthAdjust="spacingAndGlyphs" font-size="29.45px" y="104.63" stroke-width="0">)</tspan></text><text font-size="26.5px"  transform="translate(658.22,109.82) skewX(-17.12) scale(1,1.472)">/</text><text font-size="28.2px" ><tspan x="675.23" textLength="14.28" lengthAdjust="spacingAndGlyphs" y="105.0">L</tspan><tspan> </tspan><tspan x="716.30" textLength="13.70" lengthAdjust="spacingAndGlyphs" y="105.0">v</tspan><tspan x="730.09" textLength="12.95" lengthAdjust="spacingAndGlyphs" y="105.0">s</tspan><tspan> </tspan><tspan x="756.63" textLength="15.88" lengthAdjust="spacingAndGlyphs" y="105.0">A</tspan><tspan x="771.50" textLength="15.18" lengthAdjust="spacingAndGlyphs" y="105.0">g</tspan><tspan x="787.79" textLength="14.77" lengthAdjust="spacingAndGlyphs" y="105.0">e</tspan></text>
<circle cx="615.8" cy="107.0" r="5.3" fill="none" stroke="#000" stroke-width="1.5"/><circle cx="615.8" cy="107.0" r="1.5" fill="#000"/>
<circle cx="695.7" cy="107.0" r="5.3" fill="none" stroke="#000" stroke-width="1.5"/><circle cx="695.7" cy="107.0" r="1.5" fill="#000"/>
</g>
<g font-family="'Liberation Serif', serif" fill="#ff0000" stroke="#ff0000" stroke-width="0.25">
<text font-size="28.2px" ><tspan x="104.32" textLength="14.51" lengthAdjust="spacingAndGlyphs" y="272.4">L</tspan><tspan x="132.22" textLength="8.95" lengthAdjust="spacingAndGlyphs" font-size="29.56px" y="272.11" stroke-width="0">(</tspan><tspan x="143.76" textLength="9.25" lengthAdjust="spacingAndGlyphs" y="272.4" stroke-width="0.05">t</tspan><tspan x="155.60" textLength="9.34" lengthAdjust="spacingAndGlyphs" font-size="29.56px" y="272.11" stroke-width="0">)</tspan><tspan x="166.31" textLength="17.05" lengthAdjust="spacingAndGlyphs" y="272.4">×</tspan><tspan x="184.10" textLength="9.87" lengthAdjust="spacingAndGlyphs" font-size="33.23px" y="273.65" stroke-width="0">[</tspan><tspan x="195.28" textLength="16.76" lengthAdjust="spacingAndGlyphs" y="272.4">R</tspan><tspan x="226.97" textLength="9.34" lengthAdjust="spacingAndGlyphs" font-size="29.56px" y="272.11" stroke-width="0">(</tspan><tspan x="238.21" textLength="9.25" lengthAdjust="spacingAndGlyphs" y="272.4" stroke-width="0.05">t</tspan><tspan x="249.41" textLength="14.27" lengthAdjust="spacingAndGlyphs" y="272.4">o</tspan><tspan x="265.15" textLength="15.94" lengthAdjust="spacingAndGlyphs" y="272.4">d</tspan><tspan x="283.01" textLength="13.71" lengthAdjust="spacingAndGlyphs" y="272.4">a</tspan><tspan x="298.64" textLength="14.57" lengthAdjust="spacingAndGlyphs" y="272.4">y</tspan><tspan x="315.00" textLength="9.34" lengthAdjust="spacingAndGlyphs" font-size="29.56px" y="272.11" stroke-width="0">)</tspan></text><text font-size="26.5px"  transform="translate(326.54,277.61) skewX(-19.28) scale(1,1.506)">/</text><text font-size="28.2px" ><tspan x="343.49" textLength="16.45" lengthAdjust="spacingAndGlyphs" y="272.4">R</tspan><tspan x="375.02" textLength="9.72" lengthAdjust="spacingAndGlyphs" font-size="29.56px" y="272.11" stroke-width="0">(</tspan><tspan x="387.11" textLength="9.25" lengthAdjust="spacingAndGlyphs" y="272.4" stroke-width="0.05">t</tspan><tspan x="398.46" textLength="9.72" lengthAdjust="spacingAndGlyphs" font-size="29.56px" y="272.11" stroke-width="0">)</tspan><tspan x="410.00" textLength="10.17" lengthAdjust="spacingAndGlyphs" font-size="33.23px" y="273.65" stroke-width="0">]</tspan></text>
<circle cx="124.8" cy="274.6" r="5.4" fill="none" stroke="#ff0000" stroke-width="1.5"/><circle cx="124.8" cy="274.6" r="1.5" fill="#ff0000"/>
<circle cx="219.1" cy="274.6" r="5.4" fill="none" stroke="#ff0000" stroke-width="1.5"/><circle cx="219.1" cy="274.6" r="1.5" fill="#ff0000"/>
<circle cx="367.5" cy="274.6" r="5.4" fill="none" stroke="#ff0000" stroke-width="1.5"/><circle cx="367.5" cy="274.6" r="1.5" fill="#ff0000"/>
<text x="420.2" y="264.6" font-family="'Liberation Sans', sans-serif" font-size="13.4px" font-weight="bold" stroke-width="0.3" textLength="23.4" lengthAdjust="spacingAndGlyphs">2.5</text>
</g>
<g font-family="'Liberation Serif', serif" fill="#0000ff" stroke="#0000ff" stroke-width="0.25">
<text font-size="30.0px" ><tspan x="495.46" textLength="10.84" lengthAdjust="spacingAndGlyphs" y="524.8" stroke-width="0.05">t</tspan><tspan x="508.24" textLength="16.52" lengthAdjust="spacingAndGlyphs" y="524.8">o</tspan><tspan x="527.25" textLength="17.27" lengthAdjust="spacingAndGlyphs" y="524.8">d</tspan><tspan x="546.80" textLength="16.40" lengthAdjust="spacingAndGlyphs" y="524.8">a</tspan><tspan x="565.51" textLength="16.02" lengthAdjust="spacingAndGlyphs" y="524.8">y</tspan></text>
</g>
</svg>
</body></html>
